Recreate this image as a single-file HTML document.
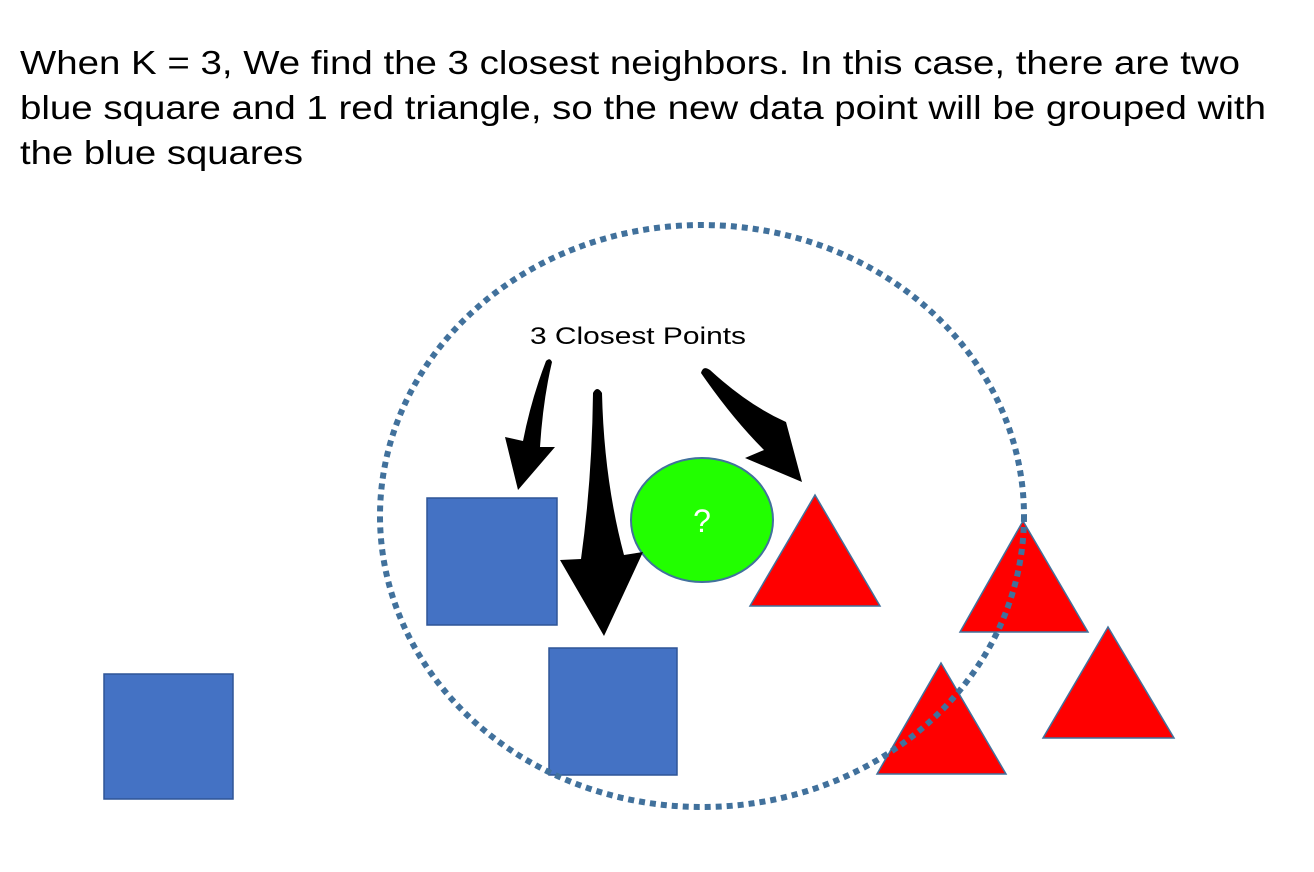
<!DOCTYPE html>
<html><head><meta charset="utf-8"><style>
html,body{margin:0;padding:0;background:#fff;}
svg{display:block;font-family:"Liberation Sans",Arial,sans-serif;}
</style></head><body>
<svg width="1314" height="872" viewBox="0 0 1314 872" xmlns="http://www.w3.org/2000/svg">
<g font-size="33" fill="#000">
<text x="20" y="74" textLength="1220" lengthAdjust="spacingAndGlyphs">When K = 3, We find the 3 closest neighbors. In this case, there are two</text>
<text x="20" y="119" textLength="1246" lengthAdjust="spacingAndGlyphs">blue square and 1 red triangle, so the new data point will be grouped with</text>
<text x="20" y="164" textLength="283" lengthAdjust="spacingAndGlyphs">the blue squares</text>
</g>
<g fill="#4472c4" stroke="#2f5597" stroke-width="1.5">
<rect x="427" y="498" width="130" height="127"/>
<rect x="549" y="648" width="128" height="127"/>
<rect x="104" y="674" width="129" height="125"/>
</g>
<g fill="#ff0000" stroke="#41719c" stroke-width="1.5">
<polygon points="750,606 880,606 815,495"/>
<polygon points="960,632 1088,632 1023,521"/>
<polygon points="1043,738 1174,738 1108,627"/>
<polygon points="877,774 1006,774 941,663"/>
</g>
<g>
<ellipse cx="702" cy="520" rx="71" ry="62" fill="#22ff00" stroke="#41719c" stroke-width="2"/>
<text x="702" y="532" font-size="32" fill="#fff" text-anchor="middle">?</text>
</g>
<g fill="#000">
<path d="M546,361 Q550,357 552,362 Q543,400 540,447 L555,447 L518,490 L505,437 L523,441 Q531,400 546,361 Z"/>
<path d="M593,393 Q597,385 602,393 Q604,480 624,555 L643,552 L604,636 L560,560 L581,559 Q592,480 593,393 Z"/>
<path d="M701,373 Q703,365 710,370 Q748,405 786,422 L802,482 L745,458 L764,450 Q732,418 701,373 Z"/>
</g>
<text x="530" y="344" font-size="24" fill="#000" textLength="216" lengthAdjust="spacingAndGlyphs">3 Closest Points</text>
<ellipse cx="702" cy="516" rx="322" ry="291" fill="none" stroke="#41719c" stroke-width="6" stroke-dasharray="6 5"/>
</svg>
</body></html>
